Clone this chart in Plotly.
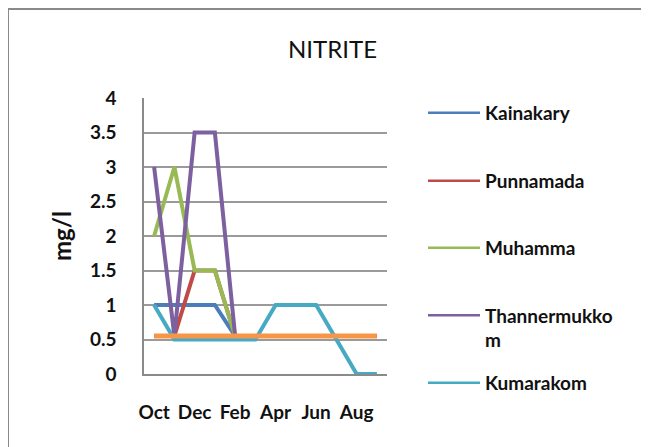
import plotly.graph_objects as go

months = ["Oct", "Nov", "Dec", "Jan", "Feb", "Mar", "Apr", "May", "Jun", "Jul", "Aug", "Sep"]
tick_labels = ["Oct", "Dec", "Feb", "Apr", "Jun", "Aug"]
y_ticks = [0, 0.5, 1, 1.5, 2, 2.5, 3, 3.5, 4]

kainakary = [1, 1, 1, 1, 0.55, 0.55, 0.55, 0.55, 0.55, 0.55, 0.55, 0.55]
punnamada = [0.55, 0.55, 1.5, 1.5, 0.55, 0.55, 0.55, 0.55, 0.55, 0.55, 0.55, 0.55]
muhamma = [2, 3, 1.5, 1.5, 0.55, 0.55, 0.55, 0.55, 0.55, 0.55, 0.55, 0.55]
thannermukkom = [3, 0.55, 3.5, 3.5, 0.55, 0.55, 0.55, 0.55, 0.55, 0.55, 0.55, 0.55]
kumarakom = [1, 0.5, 0.5, 0.5, 0.5, 0.5, 1, 1, 1, 0.5, 0, 0]
limit = [0.55] * 12

series = [
    ("Kainakary", kainakary, "#4A7EBB"),
    ("Punnamada", punnamada, "#BE4B48"),
    ("Muhamma", muhamma, "#98B954"),
    ("Thannermukko<br>m", thannermukkom, "#7D60A0"),
    ("Kumarakom", kumarakom, "#46AAC5"),
]
# screen y of each legend entry's first line
legend_y = [113, 181, 248, 317, 383]

FONT = "Lato"
OFF = 8  # page body margin
W, H = 649, 447
# plot area in screen pixels
SX0, SX1, SY0, SY1 = 144, 387, 98, 374
L = SX0 - OFF
T = SY0 - OFF
pw = SX1 - SX0
ph = SY1 - SY0
R = W - L - pw
B = H - T - ph


def px(sx):
    return (sx - OFF - L) / pw


def py(sy):
    return 1 - (sy - OFF - T) / ph


fig = go.Figure()
legends = {}
for i, (name, vals, col) in enumerate(series):
    fig.add_trace(go.Scatter(x=months, y=vals, mode="lines", name=name.replace("<br>", ""),
                             showlegend=False, line=dict(color=col, width=4)))
for i, (name, vals, col) in enumerate(series):
    lname = "legend" if i == 0 else f"legend{i + 1}"
    # legend entry (thin key line, as in the reference)
    fig.add_trace(go.Scatter(x=[None], y=[None], mode="lines", name=name,
                             legend=lname, showlegend=True,
                             line=dict(color=col, width=2.5)))
    two = "<br>" in name
    cy = legend_y[i] + (11 if two else 0)
    legends[lname] = dict(x=px(423), y=py(cy), xanchor="left", yanchor="middle",
                          valign="top", itemwidth=52, bgcolor="rgba(0,0,0,0)",
                          font=dict(family=FONT, size=19, color="#111111", weight="bold"))
fig.add_trace(go.Scatter(x=months, y=limit, mode="lines", name="Limit",
                         showlegend=False, line=dict(color="#F79646", width=5)))

fig.update_layout(
    width=W, height=H,
    margin=dict(l=L, r=R, t=T, b=B),
    paper_bgcolor="white", plot_bgcolor="white",
    font=dict(family=FONT, size=19, color="#222222"),
    showlegend=True,
    xaxis=dict(type="category", categoryorder="array", categoryarray=months,
               range=[-0.5, 11.5], tickvals=tick_labels, ticktext=tick_labels,
               showgrid=False, showline=True, linecolor="#8a8a8a", linewidth=1.5,
               ticks="", ticklabelstandoff=20, zeroline=False,
               tickfont=dict(family=FONT, size=19, color="#111111", weight="bold")),
    yaxis=dict(range=[0, 4], tickvals=y_ticks, ticktext=[f"{v:g}" for v in y_ticks],
               showgrid=True, gridcolor="#9a9a9a", gridwidth=1.5,
               showline=True, linecolor="#8a8a8a", linewidth=1.5,
               ticks="", ticklabelstandoff=22, zeroline=False,
               tickfont=dict(family=FONT, size=19, color="#111111", weight="bold")),
    annotations=[
        dict(text="NITRITE", x=px(332), y=py(49), xref="paper", yref="paper", showarrow=False,
             xanchor="center", yanchor="middle",
             font=dict(family=FONT, size=24, color="#111111")),
        dict(text="<b>mg/l</b>", x=px(61), y=py(236), xref="paper", yref="paper",
             showarrow=False, textangle=-90, xanchor="center", yanchor="middle",
             font=dict(family=FONT, size=24, color="#111111")),
    ],
    shapes=[
        dict(type="rect", xref="paper", yref="paper",
             x0=px(8), x1=px(670), y0=py(470), y1=py(9),
             line=dict(color="#8a8a8a", width=2), fillcolor="rgba(0,0,0,0)", layer="below"),
    ],
)
fig.update_layout(**legends)

fig.write_html("out.html")
